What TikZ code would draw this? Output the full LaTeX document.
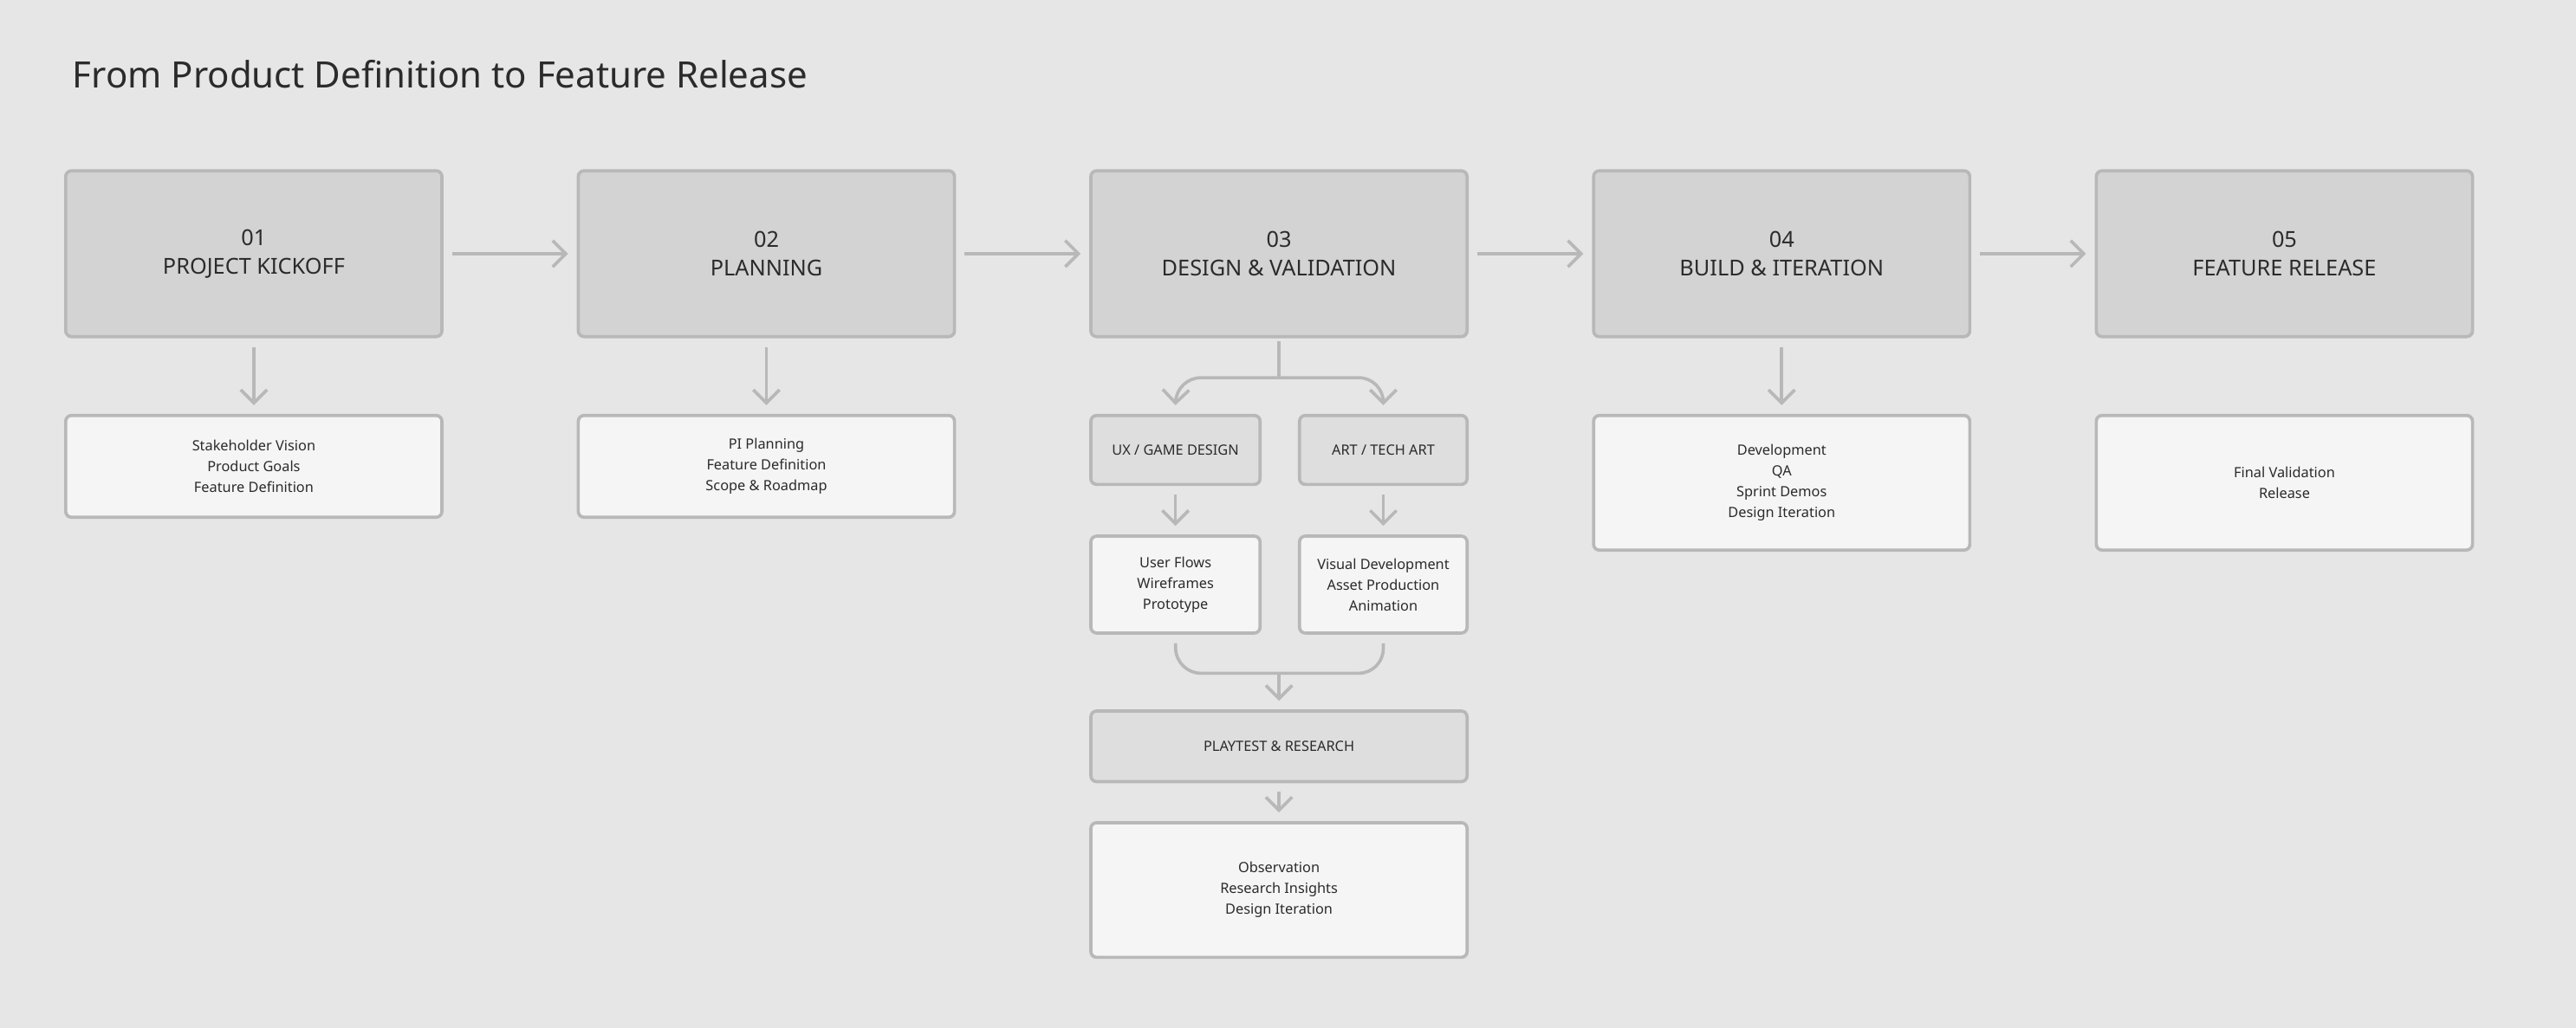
\documentclass[tikz,border=0pt]{standalone}
\usepackage{fontspec}
\setmainfont{Noto Sans}
\usetikzlibrary{arrows.meta}
\definecolor{pagebg}{HTML}{E6E6E6}
\definecolor{stagefill}{HTML}{D3D3D3}
\definecolor{subfill}{HTML}{DEDEDE}
\definecolor{listfill}{HTML}{F5F5F5}
\definecolor{edgegray}{HTML}{B8B8B8}
\definecolor{textdark}{HTML}{2B2B2B}

\tikzset{
	stage/.style = {draw = edgegray, fill = stagefill, line width = 1.1pt, rounded corners = 2pt,
		minimum width = 229*0.2mm, minimum height = 101*0.2mm, align = center,
		font = \fontsize{7.6}{10}\selectfont\bfseries, text = textdark},
	sub/.style = {draw = edgegray, fill = subfill, line width = 1.1pt, rounded corners = 2pt,
		minimum height = 42*0.2mm, align = center, font = \fontsize{4.9}{6}\selectfont, text = textdark},
	list/.style = {draw = edgegray, fill = listfill, line width = 1.1pt, rounded corners = 2pt,
		align = center, font = \fontsize{4.9}{7.2}\selectfont, text = textdark},
	flow/.style = {draw = edgegray, line width = 1.1pt, -{Straight Barb[length = 1.6mm, width = 3.2mm]}},
	pipe/.style = {draw = edgegray, line width = 1.1pt, rounded corners = 3mm}
}

\begin{document}
\begin{tikzpicture}[x = 0.2mm, y = -0.2mm]
	\fill[pagebg] (0,0) rectangle (1568,626);
	\node[anchor = west, font = \fontsize{12.6}{14}\selectfont, text = textdark] (title) at (38,45) {From Product Definition to Feature Release};

	% stages
	\node[stage] (S1) at (154.5,154.5) {01\\PROJECT KICKOFF};
	\node[stage] (S2) at (466.5,154.5) {02\\PLANNING};
	\node[stage] (S3) at (778.5,154.5) {03\\DESIGN \& VALIDATION};
	\node[stage] (S4) at (1084.5,154.5) {04\\BUILD \& ITERATION};
	\node[stage] (S5) at (1390.5,154.5) {05\\FEATURE RELEASE};

	% lists
	\node[list, minimum width = 229*0.2mm, minimum height = 62*0.2mm] (L1) at (154.5,284) {Stakeholder Vision\\Product Goals\\Feature Definition};
	\node[list, minimum width = 229*0.2mm, minimum height = 62*0.2mm] (L2) at (466.5,284) {PI Planning\\Feature Definition\\Scope \& Roadmap};
	\node[list, minimum width = 229*0.2mm, minimum height = 82*0.2mm] (L4) at (1084.5,294) {Development\\QA\\Sprint Demos\\Design Iteration};
	\node[list, minimum width = 229*0.2mm, minimum height = 82*0.2mm] (L5) at (1390.5,294) {Final Validation\\Release};

	% design branch
	\node[sub, minimum width = 103*0.2mm] (UX) at (715.5,274) {UX / GAME DESIGN};
	\node[sub, minimum width = 102*0.2mm] (ART) at (842,274) {ART / TECH ART};
	\node[list, minimum width = 103*0.2mm, minimum height = 59*0.2mm] (LUX) at (715.5,356) {User Flows\\Wireframes\\Prototype};
	\node[list, minimum width = 102*0.2mm, minimum height = 59*0.2mm] (LART) at (842,356) {Visual Development\\Asset Production\\Animation};
	\node[sub, minimum width = 229*0.2mm, minimum height = 43*0.2mm] (PT) at (778.5,454.5) {PLAYTEST \& RESEARCH};
	\node[list, minimum width = 229*0.2mm, minimum height = 82*0.2mm] (OBS) at (778.5,542) {Observation\\Research Insights\\Design Iteration};

	\foreach \a/\b in {S1/S2, S2/S3, S3/S4, S4/S5}
		\draw[flow] ([xshift = 3pt]\a.east) -- ([xshift = -3pt]\b.west);
	\foreach \a/\b in {S1/L1, S2/L2, S4/L4, UX/LUX, ART/LART, PT/OBS}
		\draw[flow] ([yshift = -3pt]\a.south) -- ([yshift = 3pt]\b.north);

	\coordinate (fork) at (778.5,230);
	\draw[pipe] ([yshift = -1pt]S3.south) -- (fork);
	\draw[pipe, -{Straight Barb[length = 1.6mm, width = 3.2mm]}] (fork) -- (716,230) -- ([yshift = 3pt]UX.north);
	\draw[pipe, -{Straight Barb[length = 1.6mm, width = 3.2mm]}] (fork) -- (842,230) -- ([yshift = 3pt]ART.north);

	\coordinate (join) at (778.5,410);
	\draw[pipe] ([yshift = -3pt]LUX.south) -- (716,410) -- (join);
	\draw[pipe] ([yshift = -3pt]LART.south) -- (842,410) -- (join);
	\draw[flow] (join) -- ([yshift = 3pt]PT.north);
\end{tikzpicture}
\end{document}
